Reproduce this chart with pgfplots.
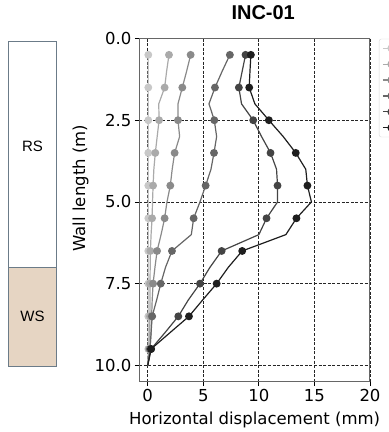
\documentclass[border=0pt]{standalone}
\usepackage{pgfplots}
\pgfplotsset{compat=1.18}
\usepackage{pgfplotstable}
\usepackage{fontspec}
\setmainfont{DejaVu Sans}
\newfontfamily\arialfont{Liberation Sans}
\definecolor{c1}{HTML}{C8C8C8}
\definecolor{c2}{HTML}{AAAAAA}
\definecolor{c3}{HTML}{8A8A8A}
\definecolor{c4}{HTML}{666666}
\definecolor{c5}{HTML}{444444}
\definecolor{c6}{HTML}{1E1E1E}
\definecolor{wsfill}{HTML}{E6D5C3}
\definecolor{colborder}{HTML}{6B7B88}

\pgfplotstableread{
d    s1    s2    s3    s4    s5     s6
0.5  0.05  1.91  3.86  7.39  8.80   9.28
1.0  0.05  1.70  3.50  6.70  8.50   9.20
1.5  0.05  1.52  3.11  6.05  8.20   9.13
2.0  0.05  0.99  2.72  5.51  8.44   9.64
2.5  0.05  1.02  2.72  5.99  9.49  10.90
3.0  0.05  0.85  2.87  6.20 10.24  12.19
3.5  0.05  0.68  2.42  5.96 11.05  13.32
4.0  0.05  0.55  2.20  5.69 11.59  14.22
4.5  0.05  0.48  2.03  5.21 11.68  14.37
5.0  0.05  0.43  1.73  4.70 11.68  14.73
5.5  0.05  0.39  1.52  4.13 10.69  13.38
6.0  0.05  0.30  1.20  3.92 10.00  12.43
6.5  0.05  0.24  0.84  2.18  6.65   8.50
7.0  0.05  0.22  0.65  1.60  5.60   7.25
7.5  0.05  0.20  0.48  1.17  4.70   6.20
8.0  0.05  0.20  0.40  0.80  3.65   4.94
8.5  0.05  0.20  0.35  0.40  2.75   3.71
9.0  0.05  0.15  0.30  0.30  1.55   2.00
9.5  0.05  0.10  0.20  0.20  0.30   0.30
10.0 0.00  0.00  0.00  0.00  0.00   0.00
}\inc

\begin{document}
\begin{tikzpicture}
\path[use as bounding box] (0pt,0pt) rectangle (389pt,432pt);
% soil column
\begin{axis}[at={(0pt,0pt)}, anchor=south west, scale only axis,
  width=389pt, height=432pt, xmin=0, xmax=389, ymin=0, ymax=432,
  y dir=reverse, hide axis, clip=false]
\addplot[draw=colborder, fill=white, line width=0.8pt] coordinates {(8.3,41.7) (56.7,41.7) (56.7,267.3) (8.3,267.3) (8.3,41.7)};
\addplot[draw=colborder, fill=wsfill, line width=0.8pt] coordinates {(8.3,267.3) (56.7,267.3) (56.7,366) (8.3,366) (8.3,267.3)};
\node[font=\arialfont\fontsize{15}{17}\selectfont] at (axis cs:32.5,146.7) {RS};
\node[font=\arialfont\fontsize{15}{17}\selectfont] at (axis cs:32.5,316.7) {WS};
\end{axis}
% main axis
\begin{axis}[at={(139.3pt,50.3pt)}, anchor=south west, scale only axis,
  width=230.7pt, height=343.2pt,
  xmin=-0.76, xmax=20, ymin=0, ymax=10.5, y dir=reverse,
  xtick={0,5,10,15,20}, ytick={0,2.5,5,7.5,10},
  yticklabel style={/pgf/number format/.cd, fixed, fixed zerofill, precision=1},
  /pgf/number format/assume math mode=true,
  grid=major, major grid style={dash pattern=on 3pt off 1.6pt, line width=0.8pt, black!85},
  tick pos=left, tick align=outside, major tick length=4.5pt,
  tick style={black, line width=0.8pt},
  axis line style={black!60, line width=1pt},
  ticklabel style={font=\fontsize{16.5}{19}\selectfont},
  label style={font=\fontsize{16.5}{19}\selectfont},
  xlabel={Horizontal displacement (mm)}, ylabel={Wall length (m)},
  xlabel style={at={(axis description cs:0.5,-0.11)}, anchor=center},
  ylabel style={at={(axis description cs:-0.255,0.564)}, anchor=center},
  title={INC-01},
  every axis title shift=0pt,
  title style={at={(axis description cs:0.537,1.075)}, anchor=center, yshift=0pt, font=\arialfont\bfseries\fontsize{20}{23}\selectfont},
  legend style={at={(axis description cs:1.039,0.999)}, anchor=north west, draw=black!15, rounded corners=2pt, fill=white, font=\fontsize{12}{14}\selectfont, row sep=1.5pt},
  legend cell align=left,
  every axis plot/.append style={line width=1.2pt, mark=*, mark size=3.3pt, mark repeat=2, mark phase=1},
]
\addplot[c1, mark options={fill=c1, draw=c1}] table[x=s1, y=d] {\inc};
\addlegendentry{\phantom{00/00/0000}}
\addplot[c2, mark options={fill=c2, draw=c2}] table[x=s2, y=d] {\inc};
\addlegendentry{\phantom{00/00/0000}}
\addplot[c3, mark options={fill=c3, draw=c3}] table[x=s3, y=d] {\inc};
\addlegendentry{\phantom{00/00/0000}}
\addplot[c4, mark options={fill=c4, draw=c4}] table[x=s4, y=d] {\inc};
\addlegendentry{\phantom{00/00/0000}}
\addplot[c5, mark options={fill=c5, draw=c5}] table[x=s5, y=d] {\inc};
\addlegendentry{\phantom{00/00/0000}}
\addplot[c6, mark options={fill=c6, draw=c6}] table[x=s6, y=d] {\inc};
\addlegendentry{\phantom{00/00/0000}}
\end{axis}
\end{tikzpicture}
\end{document}
